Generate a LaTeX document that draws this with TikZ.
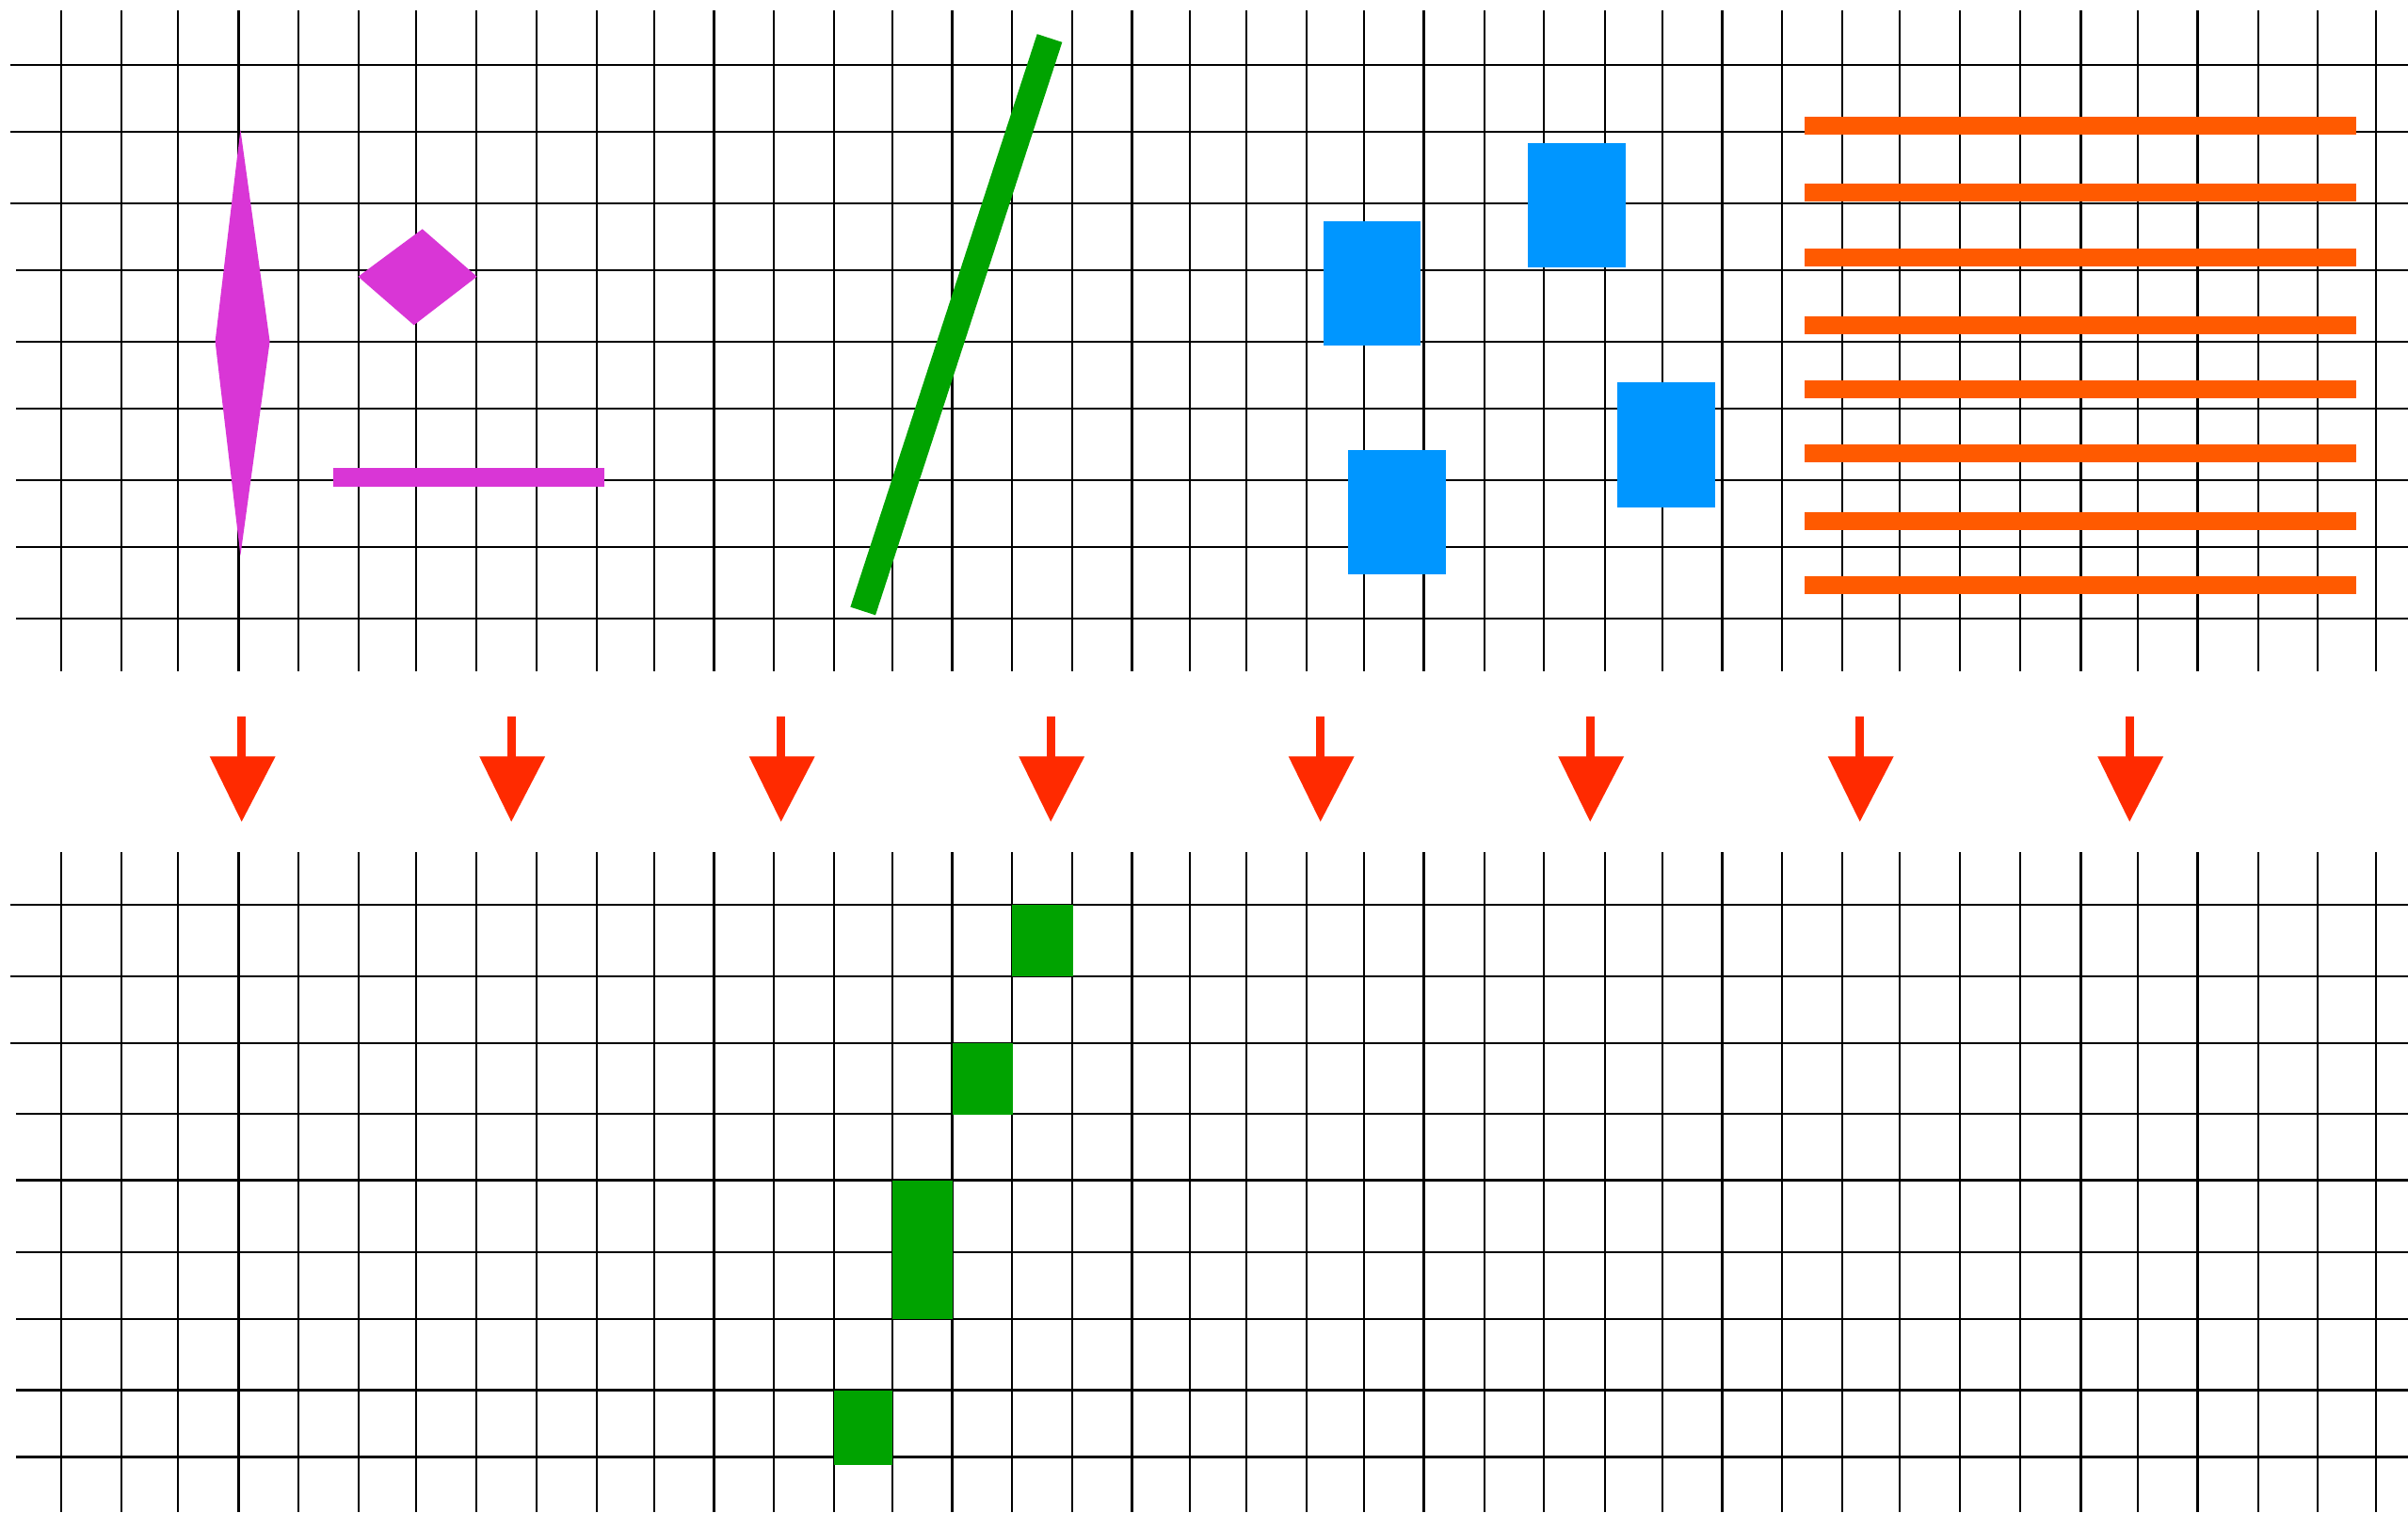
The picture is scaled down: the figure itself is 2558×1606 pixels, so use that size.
\documentclass[tikz,border=0pt]{standalone}
\definecolor{mag}{HTML}{D936D6}
\definecolor{grn}{HTML}{00A300}
\definecolor{blu}{HTML}{0096FF}
\definecolor{org}{HTML}{FF5A00}
\definecolor{rd}{HTML}{FF2A00}
\begin{document}
\begin{tikzpicture}[x=0.01cm,y=-0.01cm,
  gridline/.style={black,line width=0.6pt},
  magshape/.style={fill=mag,draw=none},
  bluebox/.style={fill=blu,draw=none},
  orangebar/.style={fill=org,draw=none},
  greenbox/.style={fill=grn,draw=none},
  redarrow/.style={fill=rd,draw=none}]
\useasboundingbox (0,0) rectangle (2558,1606);
\fill[white] (0,0) rectangle (2558,1606);
\def\xs{65,129,189,253.5,317,381,442,506,570,634,695,758.5,822,886,948,1011.5,1075,1139,1202.5,1264,1324,1388,1449,1512.5,1577,1640,1705,1766,1829.5,1893,1957,2018,2082,2146,2210.5,2271,2334.5,2399,2462,2524}
% vertical grid lines
\foreach \x in \xs {
  \draw[gridline] (\x,11) -- (\x,713);
  \draw[gridline] (\x,905) -- (\x,1606);
}
% horizontal grid lines, top panel
\foreach \y [count=\i] in {68.9,139.6,215.8,287.4,363.2,434.4,509.6,581.3,657} {
  \pgfmathsetmacro\xl{\i<4 ? 11 : 17}
  \draw[gridline] (\xl,\y) -- (2558,\y);
}
% horizontal grid lines, bottom panel
\foreach \y [count=\i] in {961,1037,1108,1183,1253.5,1330,1401,1476.5,1547.5} {
  \pgfmathsetmacro\xl{\i<4 ? 11 : 17}
  \draw[gridline] (\xl,\y) -- (2558,\y);
}
% magenta shapes
\fill[magshape] (255.4,137.7) -- (286.6,362.7) -- (255.4,590) -- (228.6,362.7) -- cycle;
\fill[magshape] (448.7,243.3) -- (506.7,293.8) -- (439.7,345.3) -- (380.4,293.8) -- cycle;
\fill[magshape] (354,497) rectangle (641.5,516.5);
% green diagonal bar
\draw[grn,line width=0.28cm] (916.7,649) -- (1115,40.5);
% blue boxes
\fill[bluebox] (1405.5,235) rectangle (1509,366.5);
\fill[bluebox] (1623.3,151.5) rectangle (1727.3,283.7);
\fill[bluebox] (1432.2,478) rectangle (1536.3,609.7);
\fill[bluebox] (1718.4,406.3) rectangle (1822,538.6);
% orange bars
\foreach \yc in {133.7,204.1,273.6,345,413.7,481.9,553.5,621.4} {
  \fill[orangebar] (1917,\yc-9.5) rectangle (2503,\yc+9.5);
}
% red arrows
\foreach \k in {0,...,7} {
  \pgfmathsetmacro\c{256.7+286.5*\k}
  \fill[redarrow] (\c-4.4,761) rectangle (\c+4.4,804);
  \fill[redarrow] (\c-34,803.3) -- (\c+36,803.3) -- (\c,872.7) -- cycle;
}
% green result cells
\fill[greenbox] (1075,961) rectangle (1139.5,1037);
\fill[greenbox] (1011.5,1108) rectangle (1075.5,1183.5);
\fill[greenbox] (947.5,1253.5) rectangle (1012,1401);
\fill[greenbox] (886,1476.5) rectangle (948,1556);
\end{tikzpicture}
\end{document}
